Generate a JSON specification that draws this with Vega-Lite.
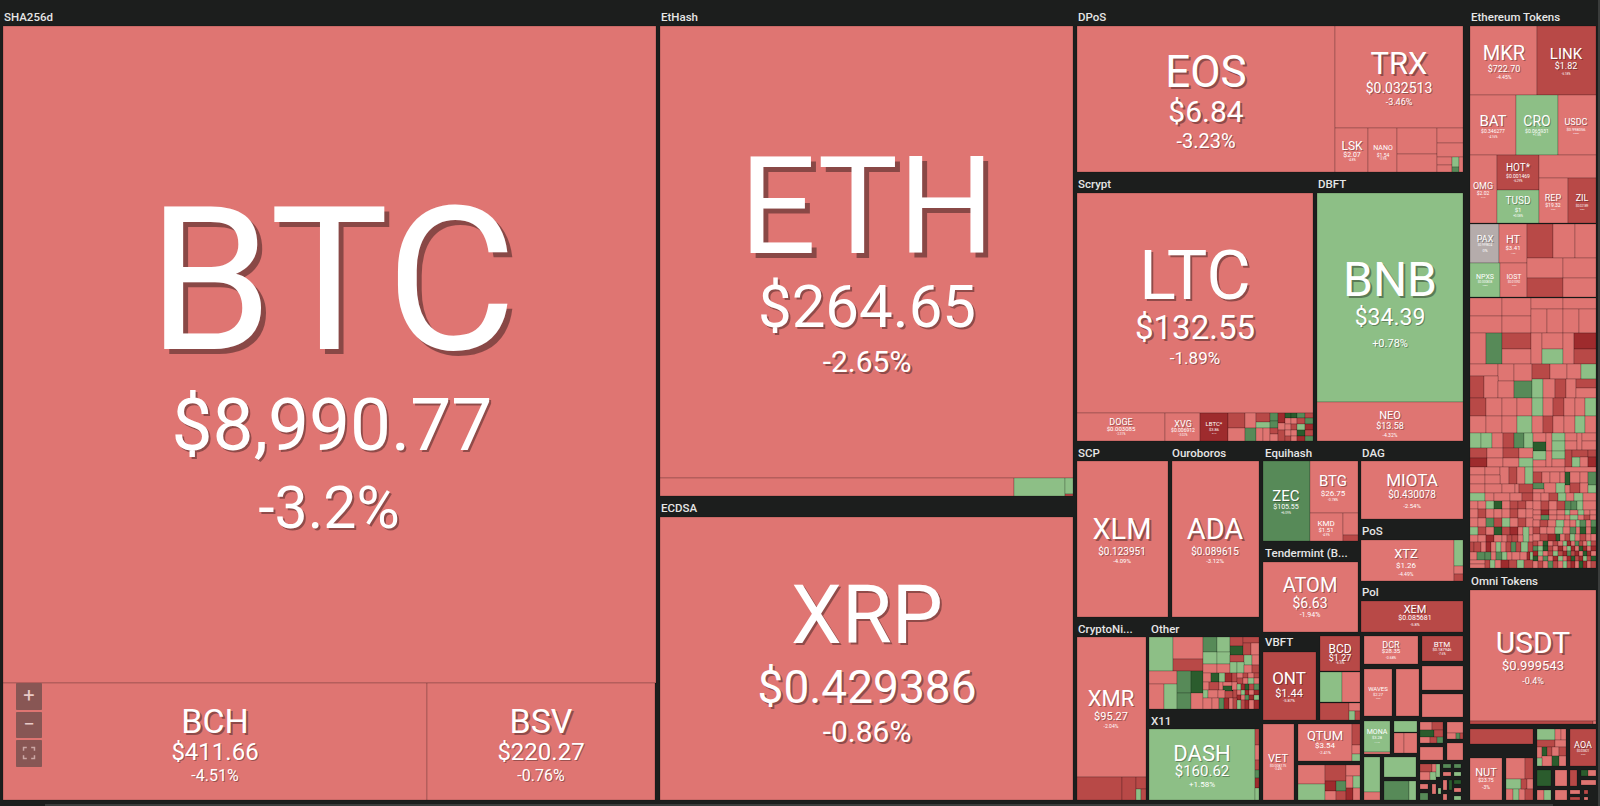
{"$schema":"https://vega.github.io/schema/vega-lite/v6.json","width":1600,"height":806,"autosize":{"type":"fit","contains":"padding"},"padding":0,"background":"#1c1e1d","view":{"stroke":null},"config":{"axis":{"disable":true}},
"datasets":{"cells":[
{"l":3,"r":656,"t":26,"b":683,"chg":-3.2},{"l":3,"r":427,"t":683,"b":800,"chg":-4.51},{"l":427,"r":655,"t":683,"b":800,"chg":-0.76},
{"l":660,"r":1073,"t":26,"b":478,"chg":-2.65},{"l":660,"r":1014,"t":478,"b":496,"chg":-3},{"l":1014,"r":1065,"t":478,"b":496,"chg":1.5},{"l":1065,"r":1073,"t":478,"b":494,"chg":1.5},{"l":1065,"r":1073,"t":494,"b":496,"chg":-6},
{"l":660,"r":1073,"t":517,"b":800,"chg":-0.86},
{"l":1077,"r":1335,"t":26,"b":172,"chg":-3.23},{"l":1335,"r":1463,"t":26,"b":128,"chg":-3.46},{"l":1335,"r":1368,"t":128,"b":172,"chg":-3},{"l":1368,"r":1397,"t":128,"b":172,"chg":-3},{"l":1397,"r":1437,"t":128,"b":154,"chg":-3},{"l":1397,"r":1437,"t":154,"b":172,"chg":-3},{"l":1437,"r":1463,"t":128,"b":143,"chg":-3},{"l":1437,"r":1463,"t":143,"b":157,"chg":-3},{"l":1437,"r":1452,"t":157,"b":165,"chg":-3},{"l":1437,"r":1452,"t":165,"b":172,"chg":-3},{"l":1452,"r":1459,"t":157,"b":167,"chg":1.5},{"l":1452,"r":1459,"t":167,"b":172,"chg":5},{"l":1459,"r":1463,"t":157,"b":172,"chg":-3},
{"l":1077,"r":1313,"t":193,"b":413,"chg":-1.89},{"l":1077,"r":1165,"t":413,"b":441,"chg":-3},{"l":1165,"r":1200,"t":413,"b":441,"chg":-3},{"l":1200,"r":1228,"t":413,"b":441,"chg":-8},
{"l":1228,"r":1245,"t":413,"b":428,"chg":-6},{"l":1228,"r":1245,"t":428,"b":441,"chg":-3},{"l":1245,"r":1256,"t":413,"b":428,"chg":-3},{"l":1245,"r":1256,"t":428,"b":441,"chg":5},{"l":1256,"r":1270,"t":413,"b":422,"chg":-6},{"l":1256,"r":1270,"t":422,"b":428,"chg":1.5},{"l":1256,"r":1263,"t":428,"b":441,"chg":-3},{"l":1263,"r":1270,"t":428,"b":441,"chg":-3},{"l":1270,"r":1278,"t":413,"b":421,"chg":5},{"l":1270,"r":1278,"t":421,"b":428,"chg":5},{"l":1270,"r":1278,"t":428,"b":434,"chg":-6},{"l":1270,"r":1278,"t":434,"b":441,"chg":-3},{"l":1278,"r":1285,"t":413,"b":423,"chg":-8},{"l":1278,"r":1285,"t":423,"b":430,"chg":-3},{"l":1278,"r":1285,"t":430,"b":441,"chg":-6},{"l":1285,"r":1291,"t":413,"b":418,"chg":9},{"l":1291,"r":1297,"t":413,"b":418,"chg":9},{"l":1297,"r":1305,"t":413,"b":418,"chg":5},{"l":1305,"r":1313,"t":413,"b":418,"chg":-6},{"l":1285,"r":1291,"t":418,"b":424,"chg":-3},{"l":1291,"r":1297,"t":418,"b":424,"chg":-3},{"l":1297,"r":1305,"t":418,"b":424,"chg":-6},{"l":1305,"r":1313,"t":418,"b":424,"chg":5},{"l":1285,"r":1291,"t":424,"b":430,"chg":-3},{"l":1291,"r":1297,"t":424,"b":430,"chg":-6},{"l":1297,"r":1305,"t":424,"b":430,"chg":1.5},{"l":1305,"r":1313,"t":424,"b":430,"chg":-8},{"l":1285,"r":1291,"t":430,"b":436,"chg":-3},{"l":1291,"r":1297,"t":430,"b":436,"chg":-3},{"l":1297,"r":1305,"t":430,"b":436,"chg":9},{"l":1305,"r":1313,"t":430,"b":436,"chg":-6},{"l":1285,"r":1291,"t":436,"b":441,"chg":-6},{"l":1291,"r":1297,"t":436,"b":441,"chg":-3},{"l":1297,"r":1305,"t":436,"b":441,"chg":-8},{"l":1305,"r":1313,"t":436,"b":441,"chg":5},
{"l":1317,"r":1463,"t":193,"b":402,"chg":0.78},{"l":1317,"r":1463,"t":402,"b":441,"chg":-4.32},
{"l":1077,"r":1168,"t":461,"b":617,"chg":-4.09},{"l":1172,"r":1259,"t":461,"b":617,"chg":-3.12},
{"l":1263,"r":1310,"t":461,"b":541,"chg":6.09},{"l":1310,"r":1358,"t":461,"b":513,"chg":-0.78},{"l":1310,"r":1343,"t":513,"b":541,"chg":-3},{"l":1343,"r":1358,"t":513,"b":535,"chg":-3},{"l":1343,"r":1358,"t":535,"b":541,"chg":-6},
{"l":1263,"r":1358,"t":562,"b":632,"chg":-1.94},
{"l":1361,"r":1463,"t":461,"b":519,"chg":-2.54},{"l":1361,"r":1454,"t":540,"b":581,"chg":-4.49},{"l":1454,"r":1463,"t":540,"b":566,"chg":1.5},{"l":1454,"r":1463,"t":566,"b":574,"chg":-3},{"l":1454,"r":1463,"t":574,"b":581,"chg":-6},{"l":1361,"r":1463,"t":601,"b":632,"chg":-5.8},
{"l":1077,"r":1146,"t":637,"b":777,"chg":-2.04},{"l":1077,"r":1122,"t":777,"b":800,"chg":-6},{"l":1122,"r":1136,"t":777,"b":800,"chg":-6},{"l":1136,"r":1146,"t":777,"b":789,"chg":-6},{"l":1136,"r":1141,"t":789,"b":800,"chg":1.5},{"l":1141,"r":1146,"t":789,"b":800,"chg":-6},
{"l":1149,"r":1173,"t":637,"b":671,"chg":1.5},{"l":1173,"r":1203,"t":637,"b":659,"chg":-3},{"l":1173,"r":1203,"t":659,"b":671,"chg":-6},{"l":1149,"r":1177,"t":671,"b":684,"chg":-3},{"l":1149,"r":1164,"t":684,"b":709,"chg":-3},{"l":1164,"r":1177,"t":684,"b":709,"chg":1.5},{"l":1177,"r":1191,"t":671,"b":693,"chg":5},{"l":1177,"r":1191,"t":693,"b":709,"chg":5},{"l":1191,"r":1203,"t":671,"b":693,"chg":9},{"l":1191,"r":1203,"t":693,"b":709,"chg":-3},
{"l":1203,"r":1217,"t":637,"b":652,"chg":5},{"l":1217,"r":1230,"t":637,"b":652,"chg":1.5},{"l":1230,"r":1243,"t":637,"b":646,"chg":-6},{"l":1230,"r":1243,"t":646,"b":655,"chg":9},{"l":1243,"r":1259,"t":637,"b":643,"chg":-6},{"l":1243,"r":1251,"t":643,"b":655,"chg":-6},{"l":1251,"r":1259,"t":643,"b":655,"chg":-3},
{"l":1203,"r":1217,"t":652,"b":664,"chg":1.5},{"l":1217,"r":1230,"t":652,"b":664,"chg":1.5},{"l":1230,"r":1244,"t":655,"b":662,"chg":-6},{"l":1244,"r":1252,"t":655,"b":665,"chg":1.5},{"l":1252,"r":1259,"t":655,"b":665,"chg":-3},
{"l":1203,"r":1217,"t":664,"b":673,"chg":-3},{"l":1217,"r":1230,"t":664,"b":673,"chg":-3},{"l":1230,"r":1237,"t":662,"b":673,"chg":1.5},{"l":1237,"r":1244,"t":662,"b":673,"chg":1.5},{"l":1244,"r":1252,"t":665,"b":673,"chg":-3},{"l":1252,"r":1259,"t":665,"b":673,"chg":-6},
{"l":1203,"r":1211,"t":673,"b":682,"chg":-3},{"l":1211,"r":1219,"t":673,"b":682,"chg":9},{"l":1219,"r":1225,"t":673,"b":682,"chg":1.5},{"l":1225,"r":1232,"t":673,"b":682,"chg":-8},{"l":1232,"r":1237,"t":673,"b":682,"chg":-6},{"l":1237,"r":1243,"t":673,"b":678,"chg":-3},{"l":1243,"r":1248,"t":673,"b":678,"chg":-6},{"l":1248,"r":1254,"t":673,"b":678,"chg":-3},{"l":1254,"r":1259,"t":673,"b":678,"chg":-6},
{"l":1237,"r":1243,"t":678,"b":684,"chg":-6},{"l":1243,"r":1248,"t":678,"b":684,"chg":-3},{"l":1248,"r":1254,"t":678,"b":684,"chg":1.5},{"l":1254,"r":1259,"t":678,"b":684,"chg":-3},
{"l":1203,"r":1209,"t":682,"b":690,"chg":-3},{"l":1209,"r":1219,"t":682,"b":690,"chg":-6},{"l":1219,"r":1223,"t":682,"b":690,"chg":-3},{"l":1223,"r":1232,"t":682,"b":686,"chg":-3},{"l":1223,"r":1232,"t":686,"b":691,"chg":9},{"l":1232,"r":1237,"t":682,"b":690,"chg":-3},{"l":1237,"r":1241,"t":684,"b":690,"chg":1.5},{"l":1241,"r":1245,"t":684,"b":690,"chg":-8},{"l":1245,"r":1249,"t":684,"b":690,"chg":9},{"l":1249,"r":1254,"t":684,"b":690,"chg":-6},{"l":1254,"r":1259,"t":684,"b":690,"chg":5},
{"l":1203,"r":1208,"t":690,"b":698,"chg":1.5},{"l":1208,"r":1218,"t":690,"b":698,"chg":-3},{"l":1218,"r":1225,"t":690,"b":698,"chg":-3},{"l":1225,"r":1233,"t":691,"b":698,"chg":-6},{"l":1233,"r":1237,"t":690,"b":698,"chg":-6},{"l":1237,"r":1241,"t":690,"b":695,"chg":-3},{"l":1241,"r":1245,"t":690,"b":695,"chg":1.5},{"l":1245,"r":1249,"t":690,"b":695,"chg":-8},{"l":1249,"r":1254,"t":690,"b":695,"chg":-3},{"l":1254,"r":1259,"t":690,"b":695,"chg":-8},
{"l":1237,"r":1241,"t":695,"b":700,"chg":-8},{"l":1241,"r":1245,"t":695,"b":700,"chg":-3},{"l":1245,"r":1249,"t":695,"b":700,"chg":5},{"l":1249,"r":1254,"t":695,"b":700,"chg":-8},{"l":1254,"r":1259,"t":695,"b":700,"chg":1.5},
{"l":1203,"r":1212,"t":698,"b":709,"chg":-3},{"l":1212,"r":1219,"t":698,"b":709,"chg":-3},{"l":1219,"r":1224,"t":698,"b":709,"chg":5},{"l":1224,"r":1229,"t":698,"b":709,"chg":-8},{"l":1229,"r":1233,"t":698,"b":709,"chg":-3},{"l":1233,"r":1237,"t":698,"b":709,"chg":-6},{"l":1237,"r":1241,"t":700,"b":709,"chg":1.5},{"l":1241,"r":1245,"t":700,"b":709,"chg":-6},{"l":1245,"r":1249,"t":700,"b":709,"chg":-8},{"l":1249,"r":1254,"t":700,"b":709,"chg":-3},{"l":1254,"r":1259,"t":700,"b":709,"chg":-8},
{"l":1149,"r":1255,"t":729,"b":800,"chg":1.58},{"l":1255,"r":1259,"t":729,"b":745,"chg":-6},{"l":1255,"r":1259,"t":745,"b":760,"chg":-3},{"l":1255,"r":1259,"t":760,"b":770,"chg":-6},{"l":1255,"r":1259,"t":770,"b":778,"chg":5},{"l":1255,"r":1259,"t":778,"b":788,"chg":-8},{"l":1255,"r":1259,"t":788,"b":800,"chg":1.5},
{"l":1263,"r":1316,"t":652,"b":720,"chg":-5.87},{"l":1320,"r":1360,"t":636,"b":671,"chg":-6.5},{"l":1320,"r":1342,"t":672,"b":702,"chg":1.5},{"l":1342,"r":1360,"t":672,"b":702,"chg":-3},{"l":1320,"r":1349,"t":703,"b":720,"chg":-6},{"l":1349,"r":1360,"t":703,"b":711,"chg":-3},{"l":1349,"r":1355,"t":711,"b":720,"chg":1.5},{"l":1355,"r":1360,"t":711,"b":720,"chg":-6},
{"l":1263,"r":1294,"t":724,"b":800,"chg":-3},{"l":1298,"r":1352,"t":724,"b":761,"chg":-2.41},{"l":1352,"r":1360,"t":724,"b":745,"chg":-6},{"l":1352,"r":1360,"t":745,"b":754,"chg":-3},{"l":1352,"r":1360,"t":754,"b":761,"chg":1.5},
{"l":1298,"r":1325,"t":765,"b":784,"chg":-3},{"l":1298,"r":1325,"t":784,"b":800,"chg":1.5},{"l":1325,"r":1346,"t":765,"b":781,"chg":-6},{"l":1346,"r":1360,"t":765,"b":776,"chg":-3},{"l":1325,"r":1336,"t":781,"b":791,"chg":-8},{"l":1336,"r":1346,"t":781,"b":791,"chg":5},{"l":1325,"r":1336,"t":791,"b":800,"chg":-3},{"l":1336,"r":1346,"t":791,"b":800,"chg":-6},{"l":1346,"r":1353,"t":776,"b":788,"chg":-3},{"l":1353,"r":1360,"t":776,"b":788,"chg":1.5},{"l":1346,"r":1353,"t":788,"b":800,"chg":-8},{"l":1353,"r":1360,"t":788,"b":800,"chg":-3},
{"l":1364,"r":1418,"t":636,"b":664,"chg":-0.68},{"l":1422,"r":1463,"t":636,"b":661,"chg":-7},{"l":1364,"r":1392,"t":669,"b":716,"chg":-3},{"l":1396,"r":1419,"t":669,"b":716,"chg":-3},{"l":1422,"r":1463,"t":666,"b":690,"chg":-3},{"l":1422,"r":1463,"t":694,"b":717,"chg":-3},
{"l":1364,"r":1390,"t":721,"b":752,"chg":1.5},{"l":1364,"r":1390,"t":752,"b":754,"chg":-3},{"l":1394,"r":1417,"t":721,"b":732,"chg":1.5},{"l":1394,"r":1404,"t":733,"b":753,"chg":-3},{"l":1404,"r":1417,"t":733,"b":753,"chg":-3},
{"l":1420,"r":1432,"t":722,"b":730,"chg":-3},{"l":1432,"r":1443,"t":722,"b":730,"chg":-6},{"l":1420,"r":1434,"t":730,"b":737,"chg":9},{"l":1434,"r":1443,"t":730,"b":737,"chg":-6},{"l":1420,"r":1430,"t":737,"b":743,"chg":-3},{"l":1430,"r":1437,"t":737,"b":743,"chg":-6},{"l":1437,"r":1443,"t":737,"b":743,"chg":5},
{"l":1447,"r":1463,"t":722,"b":733,"chg":-3},{"l":1447,"r":1456,"t":733,"b":739,"chg":-3},{"l":1456,"r":1460,"t":733,"b":739,"chg":5},{"l":1460,"r":1463,"t":733,"b":739,"chg":-6},
{"l":1420,"r":1443,"t":747,"b":760,"chg":-3},{"l":1447,"r":1463,"t":743,"b":760,"chg":-3},
{"l":1364,"r":1380,"t":757,"b":792,"chg":1.5},{"l":1364,"r":1380,"t":792,"b":800,"chg":-3},{"l":1384,"r":1416,"t":757,"b":777,"chg":1.5},{"l":1384,"r":1409,"t":781,"b":800,"chg":5},{"l":1409,"r":1416,"t":781,"b":800,"chg":1.5},
{"l":1420,"r":1432,"t":764,"b":772,"chg":-6},{"l":1432,"r":1440,"t":764,"b":772,"chg":-3},{"l":1420,"r":1430,"t":772,"b":780,"chg":-3},{"l":1430,"r":1436,"t":772,"b":780,"chg":1.5},{"l":1436,"r":1440,"t":764,"b":777,"chg":1.5},{"l":1443,"r":1451,"t":764,"b":768,"chg":5},{"l":1454,"r":1461,"t":764,"b":768,"chg":5},{"l":1443,"r":1451,"t":772,"b":776,"chg":-3},{"l":1454,"r":1461,"t":772,"b":776,"chg":1.5},{"l":1443,"r":1447,"t":780,"b":790,"chg":-3},{"l":1449,"r":1452,"t":780,"b":790,"chg":9},{"l":1454,"r":1461,"t":780,"b":784,"chg":9},{"l":1454,"r":1461,"t":788,"b":792,"chg":-3},{"l":1420,"r":1428,"t":784,"b":789,"chg":-3},{"l":1420,"r":1428,"t":793,"b":800,"chg":5},{"l":1432,"r":1436,"t":784,"b":794,"chg":-3},{"l":1438,"r":1441,"t":788,"b":794,"chg":1.5},{"l":1443,"r":1447,"t":794,"b":800,"chg":-3},{"l":1454,"r":1461,"t":796,"b":800,"chg":1.5},
{"l":1470,"r":1537,"t":26,"b":95,"chg":-4.45},{"l":1537,"r":1596,"t":26,"b":95,"chg":-6.18},{"l":1470,"r":1516,"t":95,"b":155,"chg":-4.16},{"l":1516,"r":1558,"t":95,"b":155,"chg":1.5},{"l":1558,"r":1596,"t":95,"b":155,"chg":-0.06},
{"l":1470,"r":1497,"t":155,"b":223,"chg":-3},{"l":1497,"r":1539,"t":155,"b":190,"chg":-6.29},{"l":1497,"r":1539,"t":190,"b":223,"chg":0.08},{"l":1539,"r":1596,"t":155,"b":178,"chg":-3},{"l":1539,"r":1568,"t":178,"b":223,"chg":-3},{"l":1568,"r":1596,"t":178,"b":223,"chg":-5.5},
{"l":1470,"r":1499,"t":224,"b":263,"chg":0},{"l":1499,"r":1527,"t":224,"b":263,"chg":-3},{"l":1527,"r":1553,"t":224,"b":258,"chg":-6},{"l":1553,"r":1575,"t":224,"b":258,"chg":-3},{"l":1575,"r":1596,"t":224,"b":258,"chg":-3},
{"l":1470,"r":1500,"t":263,"b":297,"chg":1.5},{"l":1500,"r":1527,"t":263,"b":297,"chg":-3},{"l":1527,"r":1563,"t":258,"b":278,"chg":-3},{"l":1527,"r":1563,"t":278,"b":297,"chg":-6},{"l":1563,"r":1596,"t":258,"b":278,"chg":-3},{"l":1563,"r":1596,"t":278,"b":297,"chg":-3},
{"l":1470,"r":1502,"t":298,"b":316,"chg":-3},{"l":1470,"r":1502,"t":316,"b":333,"chg":-3},{"l":1502,"r":1531,"t":298,"b":316,"chg":-3},{"l":1502,"r":1531,"t":316,"b":333,"chg":-3},{"l":1531,"r":1563,"t":298,"b":309,"chg":-3},{"l":1563,"r":1596,"t":298,"b":309,"chg":-3},{"l":1531,"r":1547,"t":309,"b":333,"chg":-3},{"l":1547,"r":1563,"t":309,"b":333,"chg":-3},{"l":1563,"r":1579,"t":309,"b":333,"chg":-3},{"l":1579,"r":1596,"t":309,"b":333,"chg":-3},
{"l":1470,"r":1486,"t":333,"b":364,"chg":-3},{"l":1486,"r":1502,"t":333,"b":364,"chg":5},{"l":1502,"r":1531,"t":333,"b":349,"chg":-6},{"l":1502,"r":1531,"t":349,"b":364,"chg":-3},{"l":1531,"r":1542,"t":333,"b":364,"chg":-3},{"l":1542,"r":1563,"t":333,"b":349,"chg":-3},{"l":1542,"r":1563,"t":349,"b":364,"chg":1.5},{"l":1563,"r":1574,"t":333,"b":364,"chg":-3},{"l":1574,"r":1596,"t":333,"b":349,"chg":-8},{"l":1574,"r":1596,"t":349,"b":364,"chg":-6},
{"l":1470,"r":1498,"t":364,"b":376,"chg":-3},{"l":1498,"r":1514,"t":364,"b":381,"chg":-3},{"l":1514,"r":1532,"t":364,"b":381,"chg":-3},{"l":1532,"r":1550,"t":364,"b":379,"chg":-6},{"l":1550,"r":1567,"t":364,"b":379,"chg":-3},{"l":1567,"r":1581,"t":364,"b":379,"chg":-3},{"l":1581,"r":1596,"t":364,"b":379,"chg":1.5},
{"l":1470,"r":1484,"t":376,"b":398,"chg":-6},{"l":1484,"r":1498,"t":376,"b":398,"chg":-3},{"l":1498,"r":1514,"t":381,"b":398,"chg":-3},{"l":1514,"r":1532,"t":381,"b":398,"chg":5},{"l":1532,"r":1543,"t":379,"b":398,"chg":1.5},{"l":1543,"r":1555,"t":379,"b":398,"chg":-3},{"l":1555,"r":1566,"t":379,"b":398,"chg":-6},{"l":1566,"r":1576,"t":379,"b":398,"chg":-3},{"l":1576,"r":1596,"t":379,"b":388,"chg":-6},{"l":1576,"r":1596,"t":388,"b":398,"chg":-3},
{"l":1470,"r":1486,"t":398,"b":416,"chg":-6},{"l":1486,"r":1502,"t":398,"b":416,"chg":-3},{"l":1502,"r":1517,"t":398,"b":416,"chg":-3},{"l":1517,"r":1532,"t":398,"b":416,"chg":-3},{"l":1532,"r":1543,"t":398,"b":416,"chg":1.5},{"l":1543,"r":1553,"t":398,"b":416,"chg":-3},{"l":1553,"r":1564,"t":398,"b":416,"chg":-6},{"l":1564,"r":1575,"t":398,"b":416,"chg":-3},{"l":1575,"r":1585,"t":398,"b":416,"chg":-3},{"l":1585,"r":1596,"t":398,"b":416,"chg":1.5},
{"l":1470,"r":1486,"t":416,"b":433,"chg":-3},{"l":1486,"r":1502,"t":416,"b":433,"chg":-3},{"l":1502,"r":1517,"t":416,"b":433,"chg":-3},{"l":1517,"r":1532,"t":416,"b":433,"chg":1.5},{"l":1532,"r":1543,"t":416,"b":433,"chg":-3},{"l":1543,"r":1553,"t":416,"b":433,"chg":-6},{"l":1553,"r":1564,"t":416,"b":433,"chg":-3},{"l":1564,"r":1575,"t":416,"b":433,"chg":-3},{"l":1575,"r":1585,"t":416,"b":433,"chg":1.5},{"l":1585,"r":1596,"t":416,"b":433,"chg":-3},
{"l":1470,"r":1481,"t":433,"b":448,"chg":1.5},{"l":1481,"r":1492,"t":433,"b":448,"chg":1.5},{"l":1492,"r":1503,"t":433,"b":448,"chg":-3},{"l":1503,"r":1514,"t":433,"b":448,"chg":-6},{"l":1514,"r":1524,"t":433,"b":448,"chg":5},{"l":1524,"r":1533,"t":433,"b":448,"chg":1.5},{"l":1533,"r":1546,"t":433,"b":442,"chg":-3},{"l":1533,"r":1546,"t":442,"b":451,"chg":9},{"l":1546,"r":1552,"t":433,"b":451,"chg":-3},{"l":1552,"r":1565,"t":433,"b":441,"chg":1.5},{"l":1552,"r":1565,"t":441,"b":451,"chg":1.5},{"l":1565,"r":1577,"t":433,"b":441,"chg":-3},{"l":1565,"r":1577,"t":441,"b":450,"chg":-3},{"l":1577,"r":1582,"t":433,"b":450,"chg":-3},{"l":1582,"r":1596,"t":433,"b":441,"chg":-3},{"l":1582,"r":1596,"t":441,"b":450,"chg":-3},
{"l":1470,"r":1487,"t":448,"b":458,"chg":-6},{"l":1470,"r":1487,"t":458,"b":467,"chg":-8},{"l":1487,"r":1503,"t":448,"b":458,"chg":-3},{"l":1487,"r":1503,"t":458,"b":467,"chg":-3},{"l":1503,"r":1519,"t":448,"b":458,"chg":-6},{"l":1519,"r":1533,"t":448,"b":458,"chg":-3},{"l":1503,"r":1519,"t":458,"b":467,"chg":-3},{"l":1519,"r":1533,"t":458,"b":467,"chg":1.5},{"l":1533,"r":1546,"t":451,"b":460,"chg":1.5},{"l":1533,"r":1546,"t":460,"b":467,"chg":-3},{"l":1546,"r":1552,"t":451,"b":467,"chg":-3},{"l":1552,"r":1565,"t":451,"b":459,"chg":1.5},{"l":1552,"r":1565,"t":459,"b":467,"chg":-3},{"l":1565,"r":1572,"t":450,"b":467,"chg":-6},{"l":1572,"r":1580,"t":457,"b":467,"chg":1.5},{"l":1572,"r":1588,"t":450,"b":457,"chg":-6},{"l":1580,"r":1588,"t":457,"b":467,"chg":-3},{"l":1588,"r":1596,"t":450,"b":457,"chg":-6},{"l":1588,"r":1596,"t":457,"b":467,"chg":-8},
{"l":1470,"r":1485,"t":467,"b":475,"chg":-3},{"l":1485,"r":1500,"t":467,"b":475,"chg":-3},{"l":1500,"r":1509,"t":467,"b":484,"chg":-3},{"l":1509,"r":1517,"t":467,"b":484,"chg":-6},{"l":1517,"r":1525,"t":467,"b":484,"chg":-3},{"l":1525,"r":1533,"t":467,"b":484,"chg":1.5},{"l":1470,"r":1485,"t":475,"b":484,"chg":-3},{"l":1485,"r":1500,"t":475,"b":484,"chg":-3},{"l":1470,"r":1485,"t":484,"b":493,"chg":-3},{"l":1485,"r":1502,"t":484,"b":493,"chg":-3},{"l":1502,"r":1515,"t":484,"b":493,"chg":-3},{"l":1515,"r":1519,"t":484,"b":493,"chg":-3},{"l":1519,"r":1533,"t":484,"b":493,"chg":-6},
{"l":1533,"r":1565,"t":467,"b":472,"chg":-3},{"l":1565,"r":1596,"t":467,"b":472,"chg":-3},{"l":1533,"r":1542,"t":472,"b":483,"chg":-6},{"l":1542,"r":1550,"t":472,"b":483,"chg":-3},{"l":1550,"r":1560,"t":472,"b":483,"chg":-3},{"l":1560,"r":1565,"t":472,"b":483,"chg":-3},{"l":1565,"r":1570,"t":472,"b":485,"chg":9},{"l":1570,"r":1580,"t":472,"b":483,"chg":-3},{"l":1580,"r":1588,"t":472,"b":483,"chg":-3},{"l":1588,"r":1596,"t":472,"b":485,"chg":5},{"l":1533,"r":1544,"t":483,"b":489,"chg":5},{"l":1544,"r":1556,"t":483,"b":493,"chg":-3},{"l":1556,"r":1565,"t":483,"b":493,"chg":1.5},{"l":1565,"r":1570,"t":485,"b":493,"chg":-3},{"l":1570,"r":1580,"t":483,"b":493,"chg":-6},{"l":1580,"r":1588,"t":483,"b":493,"chg":-3},{"l":1588,"r":1596,"t":485,"b":493,"chg":1.5},{"l":1533,"r":1544,"t":489,"b":493,"chg":-3},
{"l":1470,"r":1485,"t":493,"b":501,"chg":1.5},{"l":1485,"r":1494,"t":493,"b":501,"chg":-3},{"l":1494,"r":1510,"t":493,"b":501,"chg":-3},{"l":1510,"r":1522,"t":493,"b":501,"chg":-3},{"l":1522,"r":1533,"t":493,"b":501,"chg":-6},{"l":1533,"r":1541,"t":493,"b":501,"chg":-3},{"l":1541,"r":1549,"t":493,"b":501,"chg":-3},{"l":1549,"r":1558,"t":493,"b":501,"chg":-6},{"l":1558,"r":1566,"t":493,"b":501,"chg":1.5},{"l":1566,"r":1574,"t":493,"b":501,"chg":-3},{"l":1574,"r":1583,"t":493,"b":501,"chg":1.5},{"l":1583,"r":1596,"t":493,"b":501,"chg":-3},
{"l":1470,"r":1478,"t":501,"b":509,"chg":-3},{"l":1478,"r":1486,"t":501,"b":509,"chg":-3},{"l":1486,"r":1494,"t":501,"b":509,"chg":1.5},{"l":1494,"r":1502,"t":501,"b":509,"chg":9},{"l":1502,"r":1510,"t":501,"b":509,"chg":-3},{"l":1510,"r":1518,"t":501,"b":509,"chg":-6},{"l":1518,"r":1526,"t":501,"b":509,"chg":-6},{"l":1526,"r":1533,"t":501,"b":509,"chg":-3},{"l":1533,"r":1541,"t":501,"b":510,"chg":-3},{"l":1541,"r":1549,"t":501,"b":510,"chg":-6},{"l":1549,"r":1557,"t":501,"b":510,"chg":-3},{"l":1557,"r":1565,"t":501,"b":510,"chg":-6},{"l":1565,"r":1571,"t":501,"b":510,"chg":5},{"l":1571,"r":1577,"t":501,"b":510,"chg":5},{"l":1577,"r":1583,"t":501,"b":510,"chg":1.5},{"l":1583,"r":1596,"t":501,"b":510,"chg":-3},
{"l":1470,"r":1478,"t":509,"b":518,"chg":-3},{"l":1478,"r":1486,"t":509,"b":518,"chg":-6},{"l":1486,"r":1494,"t":509,"b":518,"chg":-3},{"l":1494,"r":1502,"t":509,"b":518,"chg":-3},{"l":1502,"r":1510,"t":509,"b":518,"chg":-3},{"l":1510,"r":1518,"t":509,"b":518,"chg":-6},{"l":1518,"r":1526,"t":509,"b":518,"chg":-3},{"l":1526,"r":1533,"t":509,"b":518,"chg":-3},
{"l":1533,"r":1541,"t":510,"b":515,"chg":-3},{"l":1541,"r":1549,"t":510,"b":515,"chg":-8},{"l":1549,"r":1557,"t":510,"b":515,"chg":-3},{"l":1557,"r":1565,"t":510,"b":515,"chg":-3},{"l":1565,"r":1570,"t":510,"b":515,"chg":1.5},{"l":1570,"r":1578,"t":510,"b":515,"chg":-3},{"l":1578,"r":1584,"t":510,"b":515,"chg":1.5},{"l":1584,"r":1590,"t":510,"b":515,"chg":-3},{"l":1590,"r":1596,"t":510,"b":515,"chg":-3},
{"l":1533,"r":1541,"t":515,"b":520,"chg":-3},{"l":1541,"r":1549,"t":515,"b":520,"chg":5},{"l":1549,"r":1557,"t":515,"b":520,"chg":-3},{"l":1557,"r":1565,"t":515,"b":520,"chg":-3},{"l":1565,"r":1570,"t":515,"b":520,"chg":-3},{"l":1570,"r":1578,"t":515,"b":520,"chg":1.5},{"l":1578,"r":1584,"t":515,"b":520,"chg":-3},{"l":1584,"r":1590,"t":515,"b":520,"chg":-6},{"l":1590,"r":1596,"t":515,"b":520,"chg":-3},
{"l":1470,"r":1478,"t":518,"b":527,"chg":-3},{"l":1478,"r":1486,"t":518,"b":527,"chg":-3},{"l":1486,"r":1494,"t":518,"b":527,"chg":5},{"l":1494,"r":1502,"t":518,"b":527,"chg":-6},{"l":1502,"r":1510,"t":518,"b":527,"chg":1.5},{"l":1510,"r":1518,"t":518,"b":527,"chg":-3},{"l":1518,"r":1526,"t":518,"b":527,"chg":-6},{"l":1526,"r":1533,"t":518,"b":527,"chg":-3},
{"l":1533,"r":1540,"t":520,"b":527,"chg":-3},{"l":1540,"r":1548,"t":520,"b":527,"chg":-6},{"l":1548,"r":1556,"t":520,"b":527,"chg":-3},{"l":1556,"r":1564,"t":520,"b":527,"chg":1.5},{"l":1564,"r":1570,"t":520,"b":527,"chg":-3},{"l":1570,"r":1576,"t":520,"b":527,"chg":-3},{"l":1576,"r":1580,"t":520,"b":527,"chg":1.5},{"l":1580,"r":1586,"t":520,"b":527,"chg":5},{"l":1586,"r":1591,"t":520,"b":527,"chg":-3},{"l":1591,"r":1596,"t":520,"b":527,"chg":5},
{"l":1470,"r":1478,"t":527,"b":535,"chg":1.5},{"l":1478,"r":1486,"t":527,"b":535,"chg":-6},{"l":1486,"r":1494,"t":527,"b":535,"chg":-3},{"l":1494,"r":1502,"t":527,"b":535,"chg":9},{"l":1502,"r":1510,"t":527,"b":535,"chg":-6},{"l":1510,"r":1518,"t":527,"b":535,"chg":-8},{"l":1518,"r":1523,"t":527,"b":535,"chg":-3},{"l":1523,"r":1529,"t":527,"b":542,"chg":1.5},{"l":1529,"r":1533,"t":527,"b":535,"chg":-3},
{"l":1533,"r":1540,"t":527,"b":534,"chg":-6},{"l":1540,"r":1547,"t":527,"b":534,"chg":-3},{"l":1547,"r":1555,"t":527,"b":534,"chg":-3},{"l":1555,"r":1563,"t":527,"b":534,"chg":1.5},{"l":1563,"r":1570,"t":527,"b":534,"chg":-3},{"l":1570,"r":1576,"t":527,"b":534,"chg":5},{"l":1576,"r":1580,"t":527,"b":534,"chg":-3},{"l":1580,"r":1586,"t":527,"b":534,"chg":9},{"l":1586,"r":1591,"t":527,"b":534,"chg":-3},{"l":1591,"r":1596,"t":527,"b":534,"chg":9},
{"l":1470,"r":1478,"t":535,"b":542,"chg":-3},{"l":1478,"r":1486,"t":535,"b":542,"chg":-3},{"l":1486,"r":1494,"t":535,"b":542,"chg":-8},{"l":1494,"r":1502,"t":535,"b":542,"chg":-3},{"l":1502,"r":1507,"t":535,"b":542,"chg":-3},{"l":1507,"r":1512,"t":535,"b":542,"chg":-6},{"l":1512,"r":1518,"t":535,"b":542,"chg":-6},{"l":1518,"r":1523,"t":535,"b":542,"chg":-3},{"l":1529,"r":1533,"t":535,"b":542,"chg":-3},
{"l":1533,"r":1540,"t":534,"b":541,"chg":-3},{"l":1540,"r":1548,"t":534,"b":541,"chg":-6},{"l":1548,"r":1556,"t":534,"b":541,"chg":-8},{"l":1556,"r":1560,"t":534,"b":541,"chg":9},{"l":1560,"r":1565,"t":534,"b":541,"chg":-3},{"l":1565,"r":1570,"t":534,"b":541,"chg":-6},{"l":1570,"r":1575,"t":534,"b":541,"chg":1.5},{"l":1575,"r":1580,"t":534,"b":541,"chg":-3},{"l":1580,"r":1586,"t":534,"b":541,"chg":-6},{"l":1586,"r":1591,"t":534,"b":541,"chg":-3},{"l":1591,"r":1596,"t":534,"b":541,"chg":-3},
{"l":1470,"r":1474,"t":542,"b":552,"chg":-6},{"l":1474,"r":1481,"t":542,"b":552,"chg":-6},{"l":1481,"r":1486,"t":542,"b":552,"chg":-3},{"l":1486,"r":1491,"t":542,"b":552,"chg":-8},{"l":1491,"r":1496,"t":542,"b":552,"chg":-3},{"l":1496,"r":1501,"t":542,"b":552,"chg":1.5},{"l":1501,"r":1506,"t":542,"b":552,"chg":-3},{"l":1506,"r":1511,"t":542,"b":552,"chg":-6},{"l":1511,"r":1516,"t":542,"b":552,"chg":5},{"l":1516,"r":1521,"t":542,"b":552,"chg":-6},{"l":1521,"r":1528,"t":542,"b":552,"chg":1.5},{"l":1528,"r":1533,"t":542,"b":552,"chg":-6},
{"l":1470,"r":1477,"t":552,"b":560,"chg":-3},{"l":1477,"r":1485,"t":552,"b":560,"chg":5},{"l":1485,"r":1491,"t":552,"b":560,"chg":5},{"l":1491,"r":1496,"t":552,"b":560,"chg":-3},{"l":1496,"r":1502,"t":552,"b":560,"chg":5},{"l":1502,"r":1507,"t":552,"b":560,"chg":1.5},{"l":1507,"r":1512,"t":552,"b":560,"chg":-3},{"l":1512,"r":1520,"t":552,"b":560,"chg":-3},{"l":1520,"r":1527,"t":552,"b":560,"chg":-3},{"l":1527,"r":1530,"t":552,"b":560,"chg":-8},{"l":1530,"r":1533,"t":552,"b":560,"chg":1.5},
{"l":1470,"r":1485,"t":560,"b":564,"chg":-3},{"l":1470,"r":1485,"t":564,"b":568,"chg":-3},{"l":1485,"r":1490,"t":560,"b":568,"chg":-6},{"l":1490,"r":1495,"t":560,"b":568,"chg":1.5},{"l":1495,"r":1501,"t":560,"b":568,"chg":-3},{"l":1501,"r":1509,"t":560,"b":568,"chg":-8},{"l":1509,"r":1517,"t":560,"b":568,"chg":-6},{"l":1517,"r":1524,"t":560,"b":568,"chg":1.5},{"l":1524,"r":1533,"t":560,"b":568,"chg":-6},
{"l":1533,"r":1538,"t":541,"b":546,"chg":-6},{"l":1538,"r":1543,"t":541,"b":546,"chg":-3},{"l":1543,"r":1548,"t":541,"b":546,"chg":9},{"l":1548,"r":1553,"t":541,"b":546,"chg":-3},{"l":1553,"r":1558,"t":541,"b":546,"chg":-6},{"l":1558,"r":1563,"t":541,"b":546,"chg":-3},{"l":1563,"r":1567,"t":541,"b":546,"chg":1.5},{"l":1567,"r":1571,"t":541,"b":546,"chg":-8},{"l":1571,"r":1575,"t":541,"b":546,"chg":-3},{"l":1575,"r":1579,"t":541,"b":546,"chg":5},{"l":1579,"r":1583,"t":541,"b":546,"chg":-6},{"l":1583,"r":1587,"t":541,"b":546,"chg":-3},{"l":1587,"r":1591,"t":541,"b":546,"chg":1.5},{"l":1591,"r":1596,"t":541,"b":546,"chg":-6},
{"l":1533,"r":1538,"t":546,"b":551,"chg":5},{"l":1538,"r":1543,"t":546,"b":551,"chg":1.5},{"l":1543,"r":1548,"t":546,"b":551,"chg":9},{"l":1548,"r":1553,"t":546,"b":551,"chg":-6},{"l":1553,"r":1558,"t":546,"b":551,"chg":-3},{"l":1558,"r":1563,"t":546,"b":551,"chg":-8},{"l":1563,"r":1567,"t":546,"b":551,"chg":-3},{"l":1567,"r":1571,"t":546,"b":551,"chg":1.5},{"l":1571,"r":1575,"t":546,"b":551,"chg":-8},{"l":1575,"r":1579,"t":546,"b":551,"chg":-3},{"l":1579,"r":1583,"t":546,"b":551,"chg":9},{"l":1583,"r":1587,"t":546,"b":551,"chg":-8},{"l":1587,"r":1591,"t":546,"b":551,"chg":-3},{"l":1591,"r":1596,"t":546,"b":551,"chg":-8},
{"l":1533,"r":1538,"t":551,"b":556,"chg":-8},{"l":1538,"r":1543,"t":551,"b":556,"chg":1.5},{"l":1543,"r":1548,"t":551,"b":556,"chg":-3},{"l":1548,"r":1553,"t":551,"b":556,"chg":-6},{"l":1553,"r":1558,"t":551,"b":556,"chg":1.5},{"l":1558,"r":1563,"t":551,"b":556,"chg":-6},{"l":1563,"r":1567,"t":551,"b":556,"chg":-8},{"l":1567,"r":1571,"t":551,"b":556,"chg":5},{"l":1571,"r":1575,"t":551,"b":556,"chg":-6},{"l":1575,"r":1579,"t":551,"b":556,"chg":-8},{"l":1579,"r":1583,"t":551,"b":556,"chg":-3},{"l":1583,"r":1587,"t":551,"b":556,"chg":9},{"l":1587,"r":1591,"t":551,"b":556,"chg":-8},{"l":1591,"r":1596,"t":551,"b":556,"chg":-3},
{"l":1533,"r":1538,"t":556,"b":561,"chg":9},{"l":1538,"r":1543,"t":556,"b":561,"chg":-3},{"l":1543,"r":1548,"t":556,"b":561,"chg":5},{"l":1548,"r":1553,"t":556,"b":561,"chg":-3},{"l":1553,"r":1558,"t":556,"b":561,"chg":-8},{"l":1558,"r":1563,"t":556,"b":561,"chg":1.5},{"l":1563,"r":1567,"t":556,"b":561,"chg":-3},{"l":1567,"r":1571,"t":556,"b":561,"chg":-8},{"l":1571,"r":1575,"t":556,"b":561,"chg":9},{"l":1575,"r":1579,"t":556,"b":561,"chg":-6},{"l":1579,"r":1583,"t":556,"b":561,"chg":-8},{"l":1583,"r":1587,"t":556,"b":561,"chg":1.5},{"l":1587,"r":1591,"t":556,"b":561,"chg":-6},{"l":1591,"r":1596,"t":556,"b":561,"chg":9},
{"l":1533,"r":1538,"t":561,"b":568,"chg":-3},{"l":1538,"r":1543,"t":561,"b":568,"chg":-6},{"l":1543,"r":1548,"t":561,"b":568,"chg":-3},{"l":1548,"r":1553,"t":561,"b":568,"chg":5},{"l":1553,"r":1558,"t":561,"b":568,"chg":-6},{"l":1558,"r":1563,"t":561,"b":568,"chg":-3},{"l":1563,"r":1567,"t":561,"b":568,"chg":1.5},{"l":1567,"r":1571,"t":561,"b":568,"chg":-6},{"l":1571,"r":1575,"t":561,"b":568,"chg":-8},{"l":1575,"r":1579,"t":561,"b":568,"chg":-3},{"l":1579,"r":1583,"t":561,"b":568,"chg":9},{"l":1583,"r":1587,"t":561,"b":568,"chg":-8},{"l":1587,"r":1591,"t":561,"b":568,"chg":-3},{"l":1591,"r":1596,"t":561,"b":568,"chg":-6},
{"l":1470,"r":1596,"t":590,"b":721,"chg":-0.4},{"l":1470,"r":1593,"t":721,"b":724,"chg":-6},{"l":1593,"r":1596,"t":721,"b":724,"chg":-3},
{"l":1470,"r":1533,"t":729,"b":744,"chg":-6},{"l":1537,"r":1555,"t":729,"b":740,"chg":1.5},{"l":1555,"r":1561,"t":729,"b":740,"chg":-3},{"l":1561,"r":1566,"t":729,"b":740,"chg":-3},{"l":1537,"r":1555,"t":740,"b":747,"chg":-6},{"l":1555,"r":1566,"t":740,"b":747,"chg":-3},{"l":1537,"r":1542,"t":747,"b":758,"chg":-3},{"l":1542,"r":1547,"t":747,"b":756,"chg":9},{"l":1547,"r":1552,"t":747,"b":756,"chg":-6},{"l":1552,"r":1559,"t":747,"b":756,"chg":-3},{"l":1559,"r":1566,"t":747,"b":756,"chg":-6},{"l":1542,"r":1552,"t":756,"b":766,"chg":-3},{"l":1552,"r":1559,"t":756,"b":766,"chg":9},{"l":1559,"r":1566,"t":756,"b":766,"chg":-3},{"l":1537,"r":1542,"t":758,"b":766,"chg":1.5},
{"l":1570,"r":1596,"t":729,"b":766,"chg":-6},
{"l":1470,"r":1502,"t":758,"b":800,"chg":-3},{"l":1506,"r":1525,"t":758,"b":779,"chg":-3},{"l":1525,"r":1533,"t":758,"b":779,"chg":-6},{"l":1506,"r":1521,"t":779,"b":789,"chg":1.5},{"l":1506,"r":1513,"t":789,"b":800,"chg":-3},{"l":1513,"r":1519,"t":789,"b":800,"chg":1.5},{"l":1519,"r":1525,"t":789,"b":800,"chg":-3},{"l":1521,"r":1527,"t":779,"b":789,"chg":-6},{"l":1527,"r":1533,"t":779,"b":789,"chg":-3},{"l":1525,"r":1533,"t":789,"b":800,"chg":-6},
{"l":1537,"r":1551,"t":770,"b":786,"chg":9},{"l":1555,"r":1567,"t":770,"b":786,"chg":-3},{"l":1570,"r":1577,"t":770,"b":786,"chg":-6},{"l":1581,"r":1588,"t":770,"b":776,"chg":9},{"l":1588,"r":1596,"t":770,"b":776,"chg":-3},{"l":1581,"r":1596,"t":780,"b":785,"chg":-3},{"l":1537,"r":1544,"t":790,"b":800,"chg":-3},{"l":1544,"r":1551,"t":790,"b":800,"chg":1.5},{"l":1555,"r":1567,"t":790,"b":800,"chg":-3},{"l":1570,"r":1580,"t":790,"b":794,"chg":-3},{"l":1570,"r":1580,"t":797,"b":800,"chg":-6},{"l":1584,"r":1588,"t":790,"b":794,"chg":-6},{"l":1584,"r":1588,"t":797,"b":800,"chg":-3}
],"labels":[
{"x":332,"y":349,"text":"BTC","fs":200},{"x":332,"y":450,"text":"$8,990.77","fs":73},{"x":329,"y":528,"text":"-3.2%","fs":59},
{"x":867,"y":253,"text":"ETH","fs":135},{"x":867,"y":327,"text":"$264.65","fs":60},{"x":867,"y":372,"text":"-2.65%","fs":30},
{"x":867,"y":643,"text":"XRP","fs":81},{"x":867,"y":703,"text":"$0.429386","fs":46},{"x":867,"y":742,"text":"-0.86%","fs":30},
{"x":215,"y":733,"text":"BCH","fs":34},{"x":215,"y":760,"text":"$411.66","fs":24},{"x":215,"y":781,"text":"-4.51%","fs":16},
{"x":541,"y":733,"text":"BSV","fs":34},{"x":541,"y":760,"text":"$220.27","fs":24},{"x":541,"y":781,"text":"-0.76%","fs":16},
{"x":1206,"y":87,"text":"EOS","fs":44},{"x":1206,"y":122,"text":"$6.84","fs":30},{"x":1206,"y":148,"text":"-3.23%","fs":20},
{"x":1399,"y":74,"text":"TRX","fs":31},{"x":1399,"y":93,"text":"$0.032513","fs":14},{"x":1399,"y":105,"text":"-3.46%","fs":9},
{"x":1352,"y":150,"text":"LSK","fs":12},{"x":1352,"y":157,"text":"$2.07","fs":7},{"x":1352,"y":161,"text":"-4.8%","fs":3},
{"x":1383,"y":150,"text":"NANO","fs":7},{"x":1383,"y":157,"text":"$1.54","fs":5},{"x":1383,"y":160,"text":"-3.9%","fs":3},
{"x":1195,"y":299,"text":"LTC","fs":68},{"x":1195,"y":339,"text":"$132.55","fs":33},{"x":1195,"y":364,"text":"-1.89%","fs":17},
{"x":1390,"y":296,"text":"BNB","fs":48},{"x":1390,"y":325,"text":"$34.39","fs":23},{"x":1390,"y":347,"text":"+0.78%","fs":11},
{"x":1390,"y":419,"text":"NEO","fs":11},{"x":1390,"y":429,"text":"$13.58","fs":9},{"x":1390,"y":437,"text":"-4.32%","fs":5},
{"x":1121,"y":425,"text":"DOGE","fs":9},{"x":1121,"y":431,"text":"$0.003085","fs":6},{"x":1121,"y":435,"text":"-2.31%","fs":3},
{"x":1183,"y":427,"text":"XVG","fs":9},{"x":1183,"y":432,"text":"$0.006912","fs":5},{"x":1183,"y":436,"text":"-3.02%","fs":3},
{"x":1214,"y":426,"text":"LBTC*","fs":6},{"x":1214,"y":431,"text":"$3.86","fs":4},{"x":1214,"y":434,"text":"-8.1%","fs":2},
{"x":1122,"y":539,"text":"XLM","fs":29},{"x":1122,"y":555,"text":"$0.123951","fs":10},{"x":1122,"y":563,"text":"-4.09%","fs":6},
{"x":1215,"y":539,"text":"ADA","fs":29},{"x":1215,"y":555,"text":"$0.089615","fs":10},{"x":1215,"y":563,"text":"-3.12%","fs":6},
{"x":1286,"y":501,"text":"ZEC","fs":15},{"x":1286,"y":509,"text":"$105.55","fs":7},{"x":1286,"y":514,"text":"+6.09%","fs":3},
{"x":1333,"y":486,"text":"BTG","fs":15},{"x":1333,"y":496,"text":"$26.75","fs":8},{"x":1333,"y":501,"text":"-0.78%","fs":3.5},
{"x":1326,"y":526,"text":"KMD","fs":8},{"x":1326,"y":532,"text":"$1.51","fs":6},{"x":1326,"y":536,"text":"-4.9%","fs":3},
{"x":1310,"y":592,"text":"ATOM","fs":20},{"x":1310,"y":608,"text":"$6.63","fs":14},{"x":1310,"y":617,"text":"-1.94%","fs":7},
{"x":1412,"y":486,"text":"MIOTA","fs":17},{"x":1412,"y":498,"text":"$0.430078","fs":10},{"x":1412,"y":508,"text":"-2.54%","fs":6},
{"x":1406,"y":558,"text":"XTZ","fs":13},{"x":1406,"y":568,"text":"$1.26","fs":8},{"x":1406,"y":576,"text":"-4.49%","fs":5},
{"x":1415,"y":613,"text":"XEM","fs":11},{"x":1415,"y":620,"text":"$0.085681","fs":7},{"x":1415,"y":626,"text":"-5.8%","fs":4},
{"x":1111,"y":706,"text":"XMR","fs":22},{"x":1111,"y":720,"text":"$95.27","fs":11},{"x":1111,"y":728,"text":"-2.04%","fs":5},
{"x":1202,"y":761,"text":"DASH","fs":22},{"x":1202,"y":776,"text":"$160.62","fs":15},{"x":1202,"y":787,"text":"+1.58%","fs":8},
{"x":1289,"y":684,"text":"ONT","fs":17},{"x":1289,"y":697,"text":"$1.44","fs":11},{"x":1289,"y":702,"text":"-5.87%","fs":4},
{"x":1340,"y":653,"text":"BCD","fs":12},{"x":1340,"y":661,"text":"$1.27","fs":9},{"x":1340,"y":664,"text":"-6.5%","fs":3.5},
{"x":1278,"y":762,"text":"VET","fs":11},{"x":1278,"y":767,"text":"$0.008175","fs":3.5},{"x":1278,"y":770,"text":"-3.4%","fs":3},
{"x":1325,"y":740,"text":"QTUM","fs":13},{"x":1325,"y":748,"text":"$3.54","fs":8},{"x":1325,"y":754,"text":"-2.41%","fs":4},
{"x":1391,"y":648,"text":"DCR","fs":9},{"x":1391,"y":653,"text":"$28.35","fs":6},{"x":1391,"y":659,"text":"-0.68%","fs":3.5},
{"x":1442,"y":647,"text":"BTM","fs":8},{"x":1442,"y":651,"text":"$0.187946","fs":4},{"x":1442,"y":655,"text":"-7.6%","fs":3},
{"x":1378,"y":691,"text":"WAVES","fs":6},{"x":1378,"y":696,"text":"$2.27","fs":4},{"x":1378,"y":699,"text":"-3.9%","fs":2},
{"x":1377,"y":734,"text":"MONA","fs":7},{"x":1377,"y":739,"text":"$3.28","fs":4},{"x":1377,"y":743,"text":"+1.1%","fs":2},
{"x":1504,"y":60,"text":"MKR","fs":20},{"x":1504,"y":72,"text":"$722.70","fs":9},{"x":1504,"y":79,"text":"-4.45%","fs":5},
{"x":1566,"y":59,"text":"LINK","fs":15},{"x":1566,"y":69,"text":"$1.82","fs":9},{"x":1566,"y":75,"text":"-6.18%","fs":3},
{"x":1493,"y":126,"text":"BAT","fs":15},{"x":1493,"y":133,"text":"$0.346277","fs":5},{"x":1493,"y":138,"text":"-4.16%","fs":3},
{"x":1537,"y":126,"text":"CRO","fs":14},{"x":1537,"y":133,"text":"$0.065931","fs":5},{"x":1537,"y":136,"text":"+1.5%","fs":3},
{"x":1576,"y":125,"text":"USDC","fs":9},{"x":1576,"y":131,"text":"$0.998056","fs":4},{"x":1576,"y":134,"text":"-0.06%","fs":2},
{"x":1483,"y":189,"text":"OMG","fs":9},{"x":1483,"y":195,"text":"$2.02","fs":5},{"x":1483,"y":198,"text":"-3.1%","fs":2},
{"x":1518,"y":171,"text":"HOT*","fs":10},{"x":1518,"y":178,"text":"$0.001469","fs":5},{"x":1518,"y":182,"text":"-6.29%","fs":3},
{"x":1518,"y":204,"text":"TUSD","fs":10},{"x":1518,"y":212,"text":"$1","fs":6},{"x":1518,"y":217,"text":"+0.08%","fs":3},
{"x":1553,"y":201,"text":"REP","fs":9},{"x":1553,"y":207,"text":"$19.32","fs":5},{"x":1553,"y":210,"text":"-3.3%","fs":2},
{"x":1582,"y":201,"text":"ZIL","fs":9},{"x":1582,"y":207,"text":"$0.02189","fs":3},{"x":1582,"y":210,"text":"-5.5%","fs":2},
{"x":1485,"y":242,"text":"PAX","fs":9},{"x":1485,"y":246,"text":"$0.999824","fs":3},{"x":1485,"y":252,"text":"0%","fs":4},
{"x":1513,"y":243,"text":"HT","fs":11},{"x":1513,"y":250,"text":"$3.41","fs":6},{"x":1513,"y":254,"text":"-1.9%","fs":2},
{"x":1485,"y":279,"text":"NPXS","fs":7},{"x":1485,"y":283,"text":"$0.000838","fs":3},{"x":1485,"y":286,"text":"+0.8%","fs":2},
{"x":1514,"y":279,"text":"IOST","fs":7},{"x":1514,"y":283,"text":"$0.01092","fs":3},{"x":1514,"y":286,"text":"-3.6%","fs":2},
{"x":1533,"y":653,"text":"USDT","fs":30},{"x":1533,"y":670,"text":"$0.999543","fs":13},{"x":1533,"y":684,"text":"-0.4%","fs":9},
{"x":1486,"y":776,"text":"NUT","fs":11},{"x":1486,"y":782,"text":"$23.75","fs":5},{"x":1486,"y":789,"text":"-3%","fs":5},
{"x":1583,"y":748,"text":"AOA","fs":9},{"x":1583,"y":752,"text":"$0.03821","fs":3},{"x":1583,"y":755,"text":"-6.2%","fs":2}
],"groups":[
{"x":4,"y":21,"text":"SHA256d"},{"x":661,"y":21,"text":"EtHash"},{"x":1078,"y":21,"text":"DPoS"},{"x":1471,"y":21,"text":"Ethereum Tokens"},{"x":661,"y":512,"text":"ECDSA"},{"x":1078,"y":188,"text":"Scrypt"},{"x":1318,"y":188,"text":"DBFT"},{"x":1078,"y":457,"text":"SCP"},{"x":1172,"y":457,"text":"Ouroboros"},{"x":1265,"y":457,"text":"Equihash"},{"x":1362,"y":457,"text":"DAG"},{"x":1265,"y":557,"text":"Tendermint (B..."},{"x":1362,"y":535,"text":"PoS"},{"x":1362,"y":596,"text":"Pol"},{"x":1265,"y":646,"text":"VBFT"},{"x":1078,"y":633,"text":"CryptoNi..."},{"x":1151,"y":633,"text":"Other"},{"x":1151,"y":725,"text":"X11"},{"x":1471,"y":585,"text":"Omni Tokens"}
],"controls":[{"l":16,"r":42,"t":683,"b":710,"cx":29,"cy":696,"glyph":"+"},{"l":16,"r":42,"t":712,"b":738,"cx":29,"cy":725,"glyph":"−"},{"l":16,"r":42,"t":740,"b":767,"cx":29,"cy":753,"glyph":""}],
"chrome":[{"l":45,"r":1553,"t":804,"b":806},{"l":1598,"r":1600,"t":0,"b":806}]},
"layer":[
{"data":{"name":"chrome"},"mark":{"type":"rect","fill":"#3a3c3b"},"encoding":{"x":{"field":"l","type":"quantitative","scale":{"domain":[0,1600],"nice":false,"zero":false},"axis":null},"x2":{"field":"r"},"y":{"field":"t","type":"quantitative","scale":{"domain":[0,806],"reverse":true,"nice":false,"zero":false},"axis":null},"y2":{"field":"b"}}},
{"data":{"name":"cells"},"mark":{"type":"rect","stroke":"#000000","strokeOpacity":0.2,"strokeWidth":1},"encoding":{"x":{"field":"l","type":"quantitative","axis":null},"x2":{"field":"r"},"y":{"field":"t","type":"quantitative","axis":null},"y2":{"field":"b"},"color":{"field":"chg","type":"quantitative","legend":null,"scale":{"type":"threshold","domain":[-7.5,-4.7,-0.001,0.001,3,7.5],"range":["#9e2b2d","#b84947","#df7572","#b5acab","#8dbf86","#578a58","#2b5c2d"]}}}},
{"data":{"name":"labels"},"transform":[{"filter":"datum.fs>=100"}],"mark":{"type":"text","font":"Roboto","align":"center","baseline":"alphabetic","color":"#000000","opacity":0.38,"dx":5,"dy":5},"encoding":{"x":{"field":"x","type":"quantitative","axis":null},"y":{"field":"y","type":"quantitative","axis":null},"text":{"field":"text"},"size":{"field":"fs","type":"quantitative","scale":null}}},
{"data":{"name":"labels"},"transform":[{"filter":"datum.fs>=28&&datum.fs<100"}],"mark":{"type":"text","font":"Roboto","align":"center","baseline":"alphabetic","color":"#000000","opacity":0.35,"dx":2,"dy":2},"encoding":{"x":{"field":"x","type":"quantitative","axis":null},"y":{"field":"y","type":"quantitative","axis":null},"text":{"field":"text"},"size":{"field":"fs","type":"quantitative","scale":null}}},
{"data":{"name":"labels"},"transform":[{"filter":"datum.fs>=9&&datum.fs<28"}],"mark":{"type":"text","font":"Roboto","align":"center","baseline":"alphabetic","color":"#000000","opacity":0.3,"dx":1,"dy":1},"encoding":{"x":{"field":"x","type":"quantitative","axis":null},"y":{"field":"y","type":"quantitative","axis":null},"text":{"field":"text"},"size":{"field":"fs","type":"quantitative","scale":null}}},
{"data":{"name":"labels"},"mark":{"type":"text","font":"Roboto","align":"center","baseline":"alphabetic","color":"#ffffff"},"encoding":{"x":{"field":"x","type":"quantitative","axis":null},"y":{"field":"y","type":"quantitative","axis":null},"text":{"field":"text"},"size":{"field":"fs","type":"quantitative","scale":null}}},
{"data":{"name":"groups"},"mark":{"type":"text","font":"Roboto","fontWeight":500,"fontSize":11.5,"align":"left","baseline":"alphabetic","color":"#e6e6e6"},"encoding":{"x":{"field":"x","type":"quantitative","axis":null},"y":{"field":"y","type":"quantitative","axis":null},"text":{"field":"text"}}},
{"data":{"name":"controls"},"mark":{"type":"rect","fill":"#885654","cornerRadius":1},"encoding":{"x":{"field":"l","type":"quantitative","axis":null},"x2":{"field":"r"},"y":{"field":"t","type":"quantitative","axis":null},"y2":{"field":"b"}}},
{"data":{"name":"controls"},"mark":{"type":"text","font":"Roboto","fontSize":20,"align":"center","baseline":"middle","color":"#e8c9c7"},"encoding":{"x":{"field":"cx","type":"quantitative","axis":null},"y":{"field":"cy","type":"quantitative","axis":null},"text":{"field":"glyph"}}},
{"data":{"name":"controls"},"transform":[{"filter":"datum.glyph===''"}],"mark":{"type":"point","filled":false,"stroke":"#e8c9c7","strokeWidth":1.5,"size":120,"shape":"M-1,-0.4V-1H-0.4M0.4,-1H1V-0.4M1,0.4V1H0.4M-0.4,1H-1V0.4"},"encoding":{"x":{"field":"cx","type":"quantitative","axis":null},"y":{"field":"cy","type":"quantitative","axis":null}}}
]}
